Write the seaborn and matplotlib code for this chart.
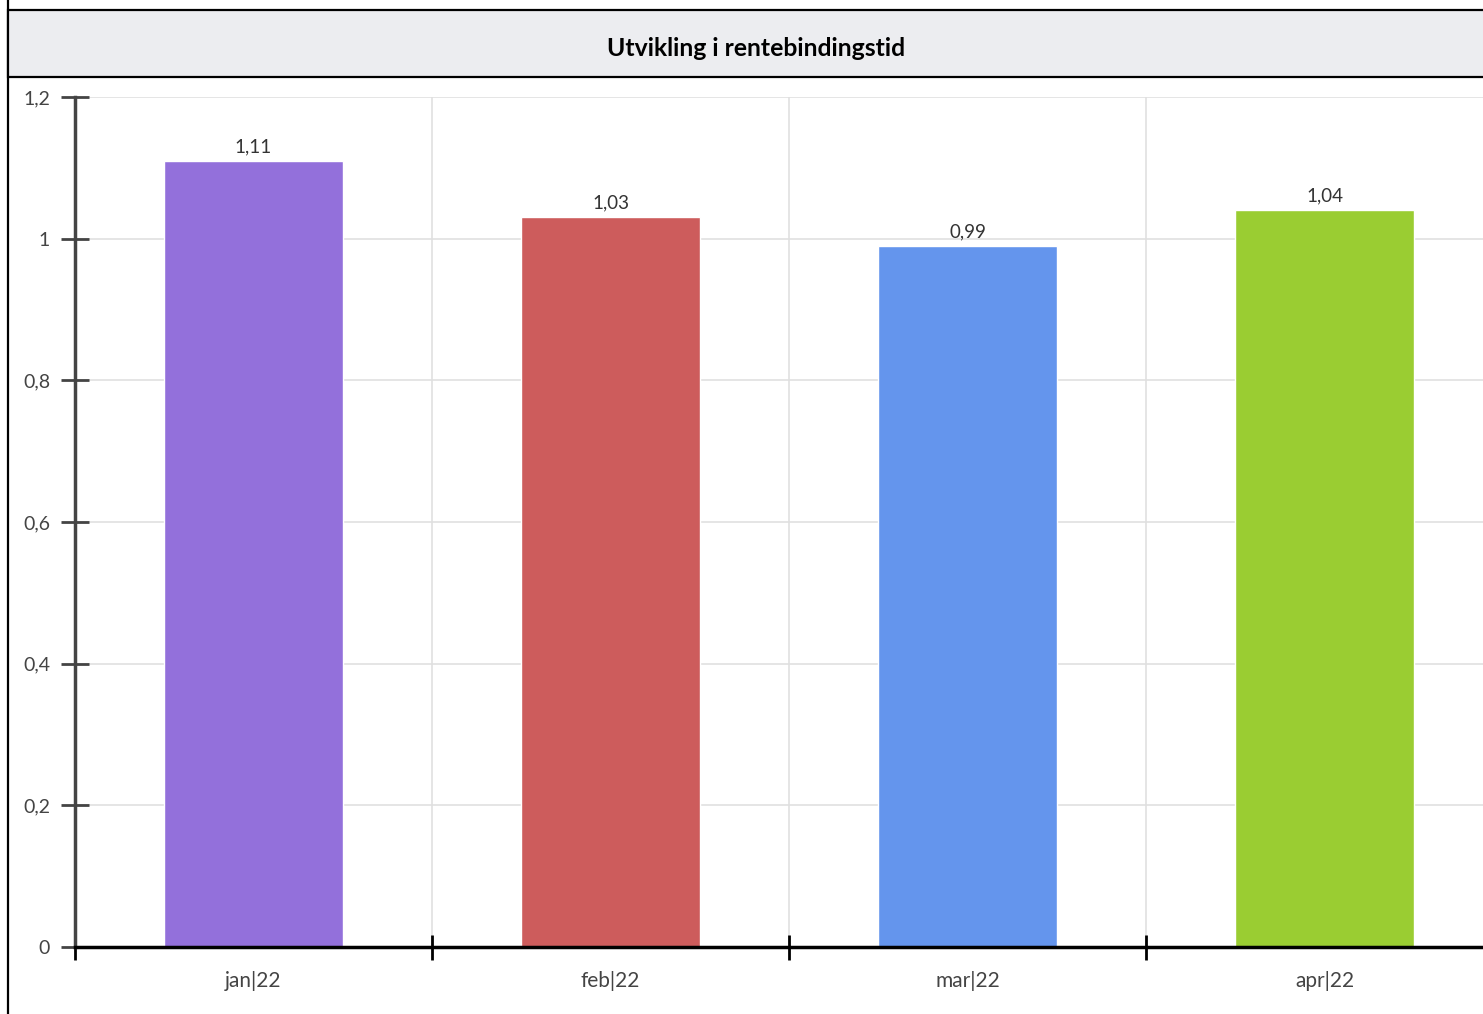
import matplotlib
matplotlib.use("Agg")
import matplotlib.pyplot as plt
import seaborn as sns
import pandas as pd
from matplotlib.patches import Rectangle
from matplotlib.ticker import FuncFormatter, FixedLocator

# data
months = ["jan|22", "feb|22", "mar|22", "apr|22"]
values = [1.11, 1.03, 0.99, 1.04]
labels = ["1,11", "1,03", "0,99", "1,04"]
colors = ["#9370DB", "#CD5C5C", "#6495ED", "#9ACD32"]
title = "Utvikling i rentebindingstid"

sns.set_theme(style="white")
plt.rcParams["font.family"] = ["Lato", "DejaVu Sans"]

W, H = 1483, 1014
fig = plt.figure(figsize=(W / 100, H / 100), dpi=100)

# outer frame + title band
fig.add_artist(Rectangle((8 / W, -0.1), 1.2, 1.2 - 10 / H, transform=fig.transFigure,
                         facecolor="white", edgecolor="black", lw=1.6, zorder=0))
fig.add_artist(Rectangle((8 / W, 1 - 77 / H), 1.2, 67 / H, transform=fig.transFigure,
                         facecolor="#ECEDF0", edgecolor="black", lw=1.6, zorder=1))
fig.text(756 / W, 1 - 48 / H, title, ha="center", va="center",
         fontsize=17.8, fontweight="bold", color="black")

ax = fig.add_axes([75 / W, (H - 947) / H, 1428 / W, 850 / H])
ax.set_facecolor("none")

df = pd.DataFrame({"month": months, "value": values})
sns.barplot(data=df, x="month", y="value", hue="month", palette=colors,
            width=0.5, legend=False, saturation=1, ax=ax, zorder=2)

for cont, lab in zip(ax.containers, labels):
    ax.bar_label(cont, labels=[lab], padding=4, fontsize=13.5, color="#333333")

ax.set_xlim(-0.5, 3.5)
ax.set_ylim(0, 1.2)
ax.set_yticks([0, 0.2, 0.4, 0.6, 0.8, 1.0, 1.2])
ax.yaxis.set_major_formatter(FuncFormatter(lambda v, p: f"{v:g}".replace(".", ",")))
ax.xaxis.set_minor_locator(FixedLocator([-0.5, 0.5, 1.5, 2.5, 3.5]))

ax.grid(True, axis="y", color="#E0E0E0", lw=1.2, zorder=0)
ax.grid(True, axis="x", which="minor", color="#E0E0E0", lw=1.2, zorder=0)
ax.set_axisbelow(True)

ax.set_xlabel("")
ax.set_ylabel("")
ax.tick_params(axis="x", which="major", bottom=True, length=0, pad=17,
               labelsize=15, labelcolor="#444444")
ax.tick_params(axis="x", which="minor", bottom=True, length=18, width=2,
               direction="inout", color="black")
ax.tick_params(axis="y", left=True, length=20, width=2, direction="inout", color="#444444",
               pad=8, labelsize=14, labelcolor="#444444")

for s in ["top", "right"]:
    ax.spines[s].set_visible(False)
ax.spines["left"].set_color("#444444")
ax.spines["left"].set_linewidth(2.5)
ax.spines["bottom"].set_color("black")
ax.spines["bottom"].set_linewidth(2.5)

fig.savefig("out.png", dpi=100)
